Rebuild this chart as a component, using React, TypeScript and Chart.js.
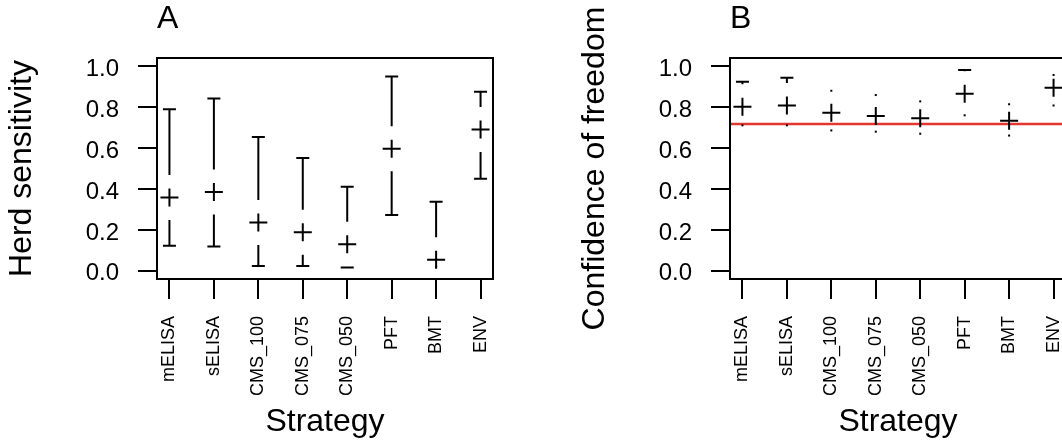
import React, { useEffect, useRef } from 'react';
import Chart from 'chart.js/auto';

// ---------- data ----------
const categories = ['mELISA', 'sELISA', 'CMS_100', 'CMS_075', 'CMS_050', 'PFT', 'BMT', 'ENV'];

const sensMean = [0.358, 0.385, 0.236, 0.189, 0.13, 0.597, 0.054, 0.691];
const sensLower = [0.122, 0.119, 0.023, 0.023, 0.016, 0.273, 0.02, 0.45];
const sensUpper = [0.789, 0.842, 0.654, 0.551, 0.411, 0.95, 0.337, 0.875];

const cofMean = [0.802, 0.808, 0.772, 0.756, 0.745, 0.865, 0.733, 0.895];
const cofLower = [0.711, 0.711, 0.686, 0.68, 0.67, 0.76, 0.661, 0.808];
const cofUpper = [0.924, 0.943, 0.88, 0.859, 0.828, 0.981, 0.814, 0.957];

const cofThreshold = 0.718;

const yTickValues = [0, 0.2, 0.4, 0.6, 0.8, 1.0];

const FONT = "'Liberation Sans', Arial, Helvetica, sans-serif";

// ---------- plugins ----------
const GAP = 22.5;
const CAP_HALF = 6.5;

function errorBarPlugin(lower: number[], upper: number[], means: number[]) {
  return {
    id: 'errorBars',
    afterDatasetsDraw(chart: any) {
      const ctx = chart.ctx;
      const xs = chart.scales.x;
      const ys = chart.scales.y;
      ctx.save();
      ctx.strokeStyle = '#000';
      ctx.fillStyle = '#000';
      ctx.lineWidth = 2;
      ctx.lineCap = 'butt';
      means.forEach((m, i) => {
        const x = xs.getPixelForValue(i);
        const yc = ys.getPixelForValue(m);
        const ends = [ys.getPixelForValue(upper[i]), ys.getPixelForValue(lower[i])];
        ends.forEach((ye, k) => {
          const dir = k === 0 ? -1 : 1;
          const dist = Math.abs(ye - yc);
          if (dist > GAP) {
            ctx.beginPath();
            ctx.moveTo(x, yc + dir * GAP);
            ctx.lineTo(x, ye);
            ctx.moveTo(x - CAP_HALF, ye);
            ctx.lineTo(x + CAP_HALF, ye);
            ctx.stroke();
          } else {
            ctx.fillRect(x - 1, ye - 1, 2, 2);
          }
        });
      });
      ctx.restore();
    },
  };
}

const framePlugin = {
  id: 'frameBox',
  afterDraw(chart: any) {
    const { ctx, chartArea } = chart;
    ctx.save();
    ctx.strokeStyle = '#000';
    ctx.lineWidth = 2;
    ctx.strokeRect(chartArea.left, chartArea.top, chartArea.right - chartArea.left, chartArea.bottom - chartArea.top);
    ctx.restore();
  },
};

function thresholdPlugin(value: number | null) {
  return {
    id: 'threshold',
    beforeDatasetsDraw(chart: any) {
      if (value === null) return;
      const { ctx, chartArea } = chart;
      const y = chart.scales.y.getPixelForValue(value);
      ctx.save();
      ctx.strokeStyle = '#e5352f';
      ctx.lineWidth = 2.5;
      ctx.beginPath();
      ctx.moveTo(chartArea.left, y);
      ctx.lineTo(chartArea.right, y);
      ctx.stroke();
      ctx.restore();
    },
  };
}

function makeConfig(letter: string, yTitle: string, means: number[], lower: number[], upper: number[], threshold: number | null) {
  return {
    type: 'scatter',
    data: {
      datasets: [
        {
          data: means.map((m, i) => ({ x: i, y: m })),
          pointStyle: 'cross',
          pointRadius: 9,
          pointHoverRadius: 9,
          pointBorderWidth: 2,
          borderColor: '#000',
          backgroundColor: '#000',
          showLine: false,
        },
      ],
    },
    options: {
      responsive: false,
      animation: false,
      events: [],
      layout: { padding: { left: 0, right: 47, top: 0, bottom: 0 } },
      plugins: {
        legend: { display: false },
        tooltip: { enabled: false },
        title: {
          display: true,
          text: letter,
          align: 'start',
          fullSize: false,
          color: '#000',
          font: { family: FONT, size: 32, weight: 'normal', lineHeight: 1.2 },
          padding: { top: 0, bottom: 19.6 },
        },
      },
      scales: {
        x: {
          type: 'linear',
          position: 'bottom',
          min: -0.28,
          max: 7.28,
          afterBuildTicks: (scale: any) => {
            scale.ticks = categories.map((_, i) => ({ value: i }));
          },
          afterFit: (scale: any) => {
            scale.height = 163;
          },
          border: { display: false },
          grid: { drawOnChartArea: false, drawTicks: true, tickLength: 20, color: '#000', lineWidth: 2 },
          ticks: {
            autoSkip: false,
            minRotation: 90,
            maxRotation: 90,
            padding: 17,
            color: '#000',
            font: { family: FONT, size: 18 },
            callback: (v: number) => categories[Math.round(v)] ?? '',
          },
          title: {
            display: true,
            text: 'Strategy',
            color: '#000',
            font: { family: FONT, size: 32, lineHeight: 1.2 },
            padding: { top: 0, bottom: 1 },
          },
        },
        y: {
          type: 'linear',
          position: 'left',
          min: -0.04,
          max: 1.04,
          afterBuildTicks: (scale: any) => {
            scale.ticks = yTickValues.map((v) => ({ value: v }));
          },
          afterFit: (scale: any) => {
            scale.width = 157;
          },
          border: { display: false },
          grid: { drawOnChartArea: false, drawTicks: true, tickLength: 19, color: '#000', lineWidth: 2 },
          ticks: {
            padding: 19,
            labelOffset: 3,
            color: '#000',
            font: { family: FONT, size: 24 },
            callback: (v: number) => v.toFixed(1),
          },
          title: {
            display: true,
            text: yTitle,
            color: '#000',
            font: { family: FONT, size: 32, lineHeight: 1.2 },
            padding: { top: 3, bottom: 0 },
          },
        },
      },
    },
    plugins: [framePlugin, thresholdPlugin(threshold), errorBarPlugin(lower, upper, means)],
  } as any;
}

function Panel(props: { left: number; config: any }) {
  const ref = useRef<HTMLCanvasElement | null>(null);
  useEffect(() => {
    if (!ref.current) return;
    const chart = new Chart(ref.current, props.config);
    return () => chart.destroy();
  }, []);
  return (
    <canvas
      ref={ref}
      width={540}
      height={442}
      style={{ position: 'absolute', left: props.left, top: 0, width: 540, height: 442 }}
    />
  );
}

export default function App() {
  const cfgA = makeConfig('A', 'Herd sensitivity', sensMean, sensLower, sensUpper, null);
  const cfgB = makeConfig('B', 'Confidence of freedom', cofMean, cofLower, cofUpper, cofThreshold);
  return (
    <div
      style={{
        position: 'fixed',
        left: 0,
        top: 0,
        width: 1062,
        height: 442,
        overflow: 'hidden',
        background: '#fff',
      }}
    >
      <Panel left={0} config={cfgA} />
      <Panel left={573} config={cfgB} />
    </div>
  );
}
